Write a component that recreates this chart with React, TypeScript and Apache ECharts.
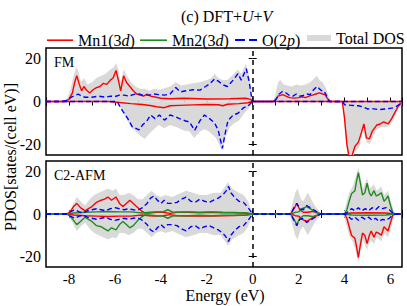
import React, { useEffect, useRef } from "react";
import * as echarts from "echarts";

const FONT = '"Liberation Serif", "Times New Roman", serif';
const RED = "#ff0000";
const GREEN = "#1e8c1e";
const BLUE = "#0000ff";
const GRAY = "#d9d9d9";

const X_TICK_LABELS = [-8, -6, -4, -2, 0, 2, 4, 6];
const Y_TICKS = [-20, 0, 20];
const LEGEND_NAMES = ["Mn1(3d)", "Mn2(3d)", "O(2p)", "Total DOS"];

// ---------- FM panel (energy eV, PDOS) ----------
const FM_TOT_UP = [
  [-9, 0], [-8.3, 0], [-8.1, 1], [-7.95, 5], [-7.8, 12], [-7.68, 16], [-7.58, 14], [-7.48, 9], [-7.35, 11], [-7.2, 8], [-7.0, 9], [-6.8, 11], [-6.6, 12], [-6.4, 13], [-6.2, 15], [-6.05, 16], [-5.95, 18], [-5.85, 15], [-5.75, 9], [-5.62, 15], [-5.48, 12], [-5.3, 9], [-5.1, 7], [-4.9, 6], [-4.7, 6], [-4.5, 5], [-4.3, 6], [-4.1, 5.5], [-3.9, 6], [-3.6, 7], [-3.35, 9], [-3.1, 7.5], [-2.9, 8], [-2.6, 8.5], [-2.3, 9], [-2.0, 10], [-1.8, 11], [-1.66, 13], [-1.5, 11], [-1.3, 10], [-1.1, 10], [-0.9, 12], [-0.65, 15], [-0.5, 13], [-0.3, 17.5], [-0.15, 12], [-0.05, 3], [0, 0],
  [0.9, 0], [1.0, 4], [1.1, 9], [1.2, 10], [1.35, 8], [1.5, 7.5], [1.7, 7], [1.9, 8], [2.1, 7.5], [2.3, 8], [2.5, 9], [2.7, 11], [2.8, 12], [2.9, 10], [3.05, 9], [3.2, 6], [3.35, 1], [3.4, 0], [6.5, 0],
];
const FM_TOT_DN = [
  [-9, 0], [-6.0, 0], [-5.85, -1], [-5.7, -4], [-5.5, -8], [-5.3, -12], [-5.1, -14], [-4.9, -16], [-4.7, -17.5], [-4.5, -15], [-4.3, -13], [-4.1, -11], [-3.85, -12.5], [-3.6, -11], [-3.3, -12], [-3.0, -13.5], [-2.75, -14], [-2.55, -17], [-2.3, -14], [-2.1, -13], [-1.9, -14], [-1.6, -17], [-1.42, -21], [-1.32, -23], [-1.2, -17], [-1.0, -12], [-0.8, -10], [-0.6, -9], [-0.4, -6], [-0.2, -3.5], [0, 0],
  [3.9, 0], [4.0, -12], [4.1, -23], [4.2, -27], [4.35, -26], [4.5, -23], [4.65, -21], [4.8, -13], [4.95, -19], [5.1, -20], [5.25, -16], [5.4, -13], [5.6, -12], [5.8, -12], [6.0, -11], [6.15, -8], [6.3, -4], [6.5, -1],
];
const FM_MN1_UP = [
  [-9, 0], [-8.2, 0], [-8.0, 1], [-7.85, 4], [-7.75, 9], [-7.66, 12], [-7.55, 8], [-7.45, 5], [-7.35, 7], [-7.25, 5.5], [-7.1, 4], [-6.95, 5.5], [-6.8, 6.5], [-6.65, 7], [-6.5, 8.5], [-6.35, 8], [-6.2, 10], [-6.08, 11], [-5.95, 14.5], [-5.85, 10], [-5.75, 5], [-5.62, 12], [-5.5, 9], [-5.35, 7], [-5.2, 5], [-5.05, 3.5], [-4.9, 3], [-4.75, 2.5], [-4.6, 3.5], [-4.45, 2.5], [-4.2, 2], [-4.0, 1.5], [-3.6, 1.3], [-3.0, 1.5], [-2.0, 1.2], [-1.0, 1.3], [-0.3, 1.5], [-0.1, 1], [0, 0],
  [0.9, 0], [1.0, 1], [1.1, 2.5], [1.3, 3.2], [1.45, 2.5], [1.6, 1.8], [1.8, 1.6], [2.0, 1.8], [2.15, 2.2], [2.3, 1.8], [2.45, 2.5], [2.6, 3], [2.75, 3.5], [2.9, 4], [3.05, 3.5], [3.15, 3.2], [3.25, 1.5], [3.35, 0], [6.5, 0],
];
const FM_MN1_DN = [
  [-9, 0], [-6.3, 0], [-5.8, -0.5], [-5.3, -1], [-4.8, -1.4], [-4.4, -2], [-4.1, -2.6], [-3.85, -2.9], [-3.6, -2], [-3.2, -1.8], [-2.6, -1.6], [-2.0, -1.4], [-1.5, -1.5], [-1.3, -2], [-1.1, -1.3], [-0.6, -1], [-0.2, -0.6], [0, 0],
  [3.9, 0], [4.0, -8], [4.1, -20], [4.2, -26], [4.3, -26], [4.45, -21], [4.6, -19], [4.72, -15], [4.84, -10.5], [4.95, -17], [5.08, -17.5], [5.2, -14], [5.4, -11], [5.55, -10.5], [5.7, -9.5], [5.9, -10.5], [6.05, -8], [6.2, -5], [6.35, -2], [6.5, -0.5],
];
const FM_O_UP = [
  [-9, 0], [-8.3, 0], [-8.1, 0.5], [-7.9, 2], [-7.6, 3.5], [-7.45, 2.5], [-7.3, 2], [-7.0, 2], [-6.7, 2.5], [-6.4, 2], [-6.2, 2.5], [-6.0, 2.3], [-5.8, 3], [-5.6, 3], [-5.4, 2.5], [-5.2, 3.2], [-5.0, 3.7], [-4.8, 3], [-4.5, 3], [-4.3, 3.5], [-4.1, 3.2], [-3.85, 3], [-3.6, 3.5], [-3.35, 6.5], [-3.15, 4.5], [-2.9, 5], [-2.6, 5.5], [-2.3, 5.3], [-2.05, 7], [-1.88, 8.2], [-1.66, 10.5], [-1.5, 9.5], [-1.3, 7.8], [-1.1, 7], [-0.85, 10], [-0.64, 13], [-0.5, 10], [-0.28, 15.3], [-0.15, 9], [-0.05, 2], [0, 0],
  [0.95, 0], [1.05, 1.5], [1.15, 3.5], [1.3, 4.7], [1.45, 4], [1.6, 2.8], [1.75, 2.5], [1.9, 3.5], [2.05, 2.5], [2.2, 2.8], [2.35, 3.5], [2.5, 3.2], [2.65, 5.5], [2.8, 7], [2.9, 6], [3.0, 5], [3.1, 5], [3.2, 3], [3.35, 0], [6.5, 0],
];
const FM_O_DN = [
  [-9, 0], [-5.9, 0], [-5.8, -2], [-5.65, -4.6], [-5.45, -7.8], [-5.25, -11.7], [-4.95, -13.3], [-4.8, -11], [-4.6, -9], [-4.45, -6.3], [-4.25, -8], [-4.06, -6.3], [-3.84, -8.7], [-3.6, -6.3], [-3.4, -7], [-3.19, -8], [-2.95, -9], [-2.75, -9.6], [-2.53, -13.5], [-2.3, -9], [-2.1, -6.3], [-1.88, -8], [-1.66, -10], [-1.5, -13.5], [-1.32, -21.9], [-1.2, -15], [-1.08, -9], [-0.85, -6.3], [-0.64, -5.5], [-0.41, -3], [-0.2, -2], [0, 0],
  [3.9, 0], [4.0, -1.5], [4.3, -1.8], [4.6, -2], [4.8, -2.5], [5.0, -3.5], [5.2, -3.3], [5.5, -3.8], [5.8, -3.5], [6.1, -3], [6.3, -2], [6.5, -0.5],
];

// ---------- C2-AFM panel ----------
const AFM_TOT_UP = [
  [-9, 0], [-8.1, 0], [-7.95, 2], [-7.8, 5], [-7.66, 8], [-7.5, 6], [-7.3, 4], [-7.1, 7], [-6.9, 9], [-6.7, 10], [-6.5, 11], [-6.3, 12], [-6.1, 11], [-5.95, 12], [-5.8, 9], [-5.6, 9], [-5.4, 10], [-5.2, 9], [-5.0, 7], [-4.8, 7], [-4.6, 9], [-4.4, 11], [-4.2, 9], [-4.0, 8], [-3.8, 9], [-3.5, 8], [-3.2, 9.5], [-2.9, 11], [-2.6, 10], [-2.3, 9], [-2.0, 9], [-1.7, 10], [-1.4, 10], [-1.2, 13], [-1.08, 15], [-0.9, 12], [-0.6, 10], [-0.4, 9], [-0.2, 6], [0, 0],
  [1.6, 0], [1.7, 4], [1.85, 10], [1.95, 12], [2.1, 7], [2.2, 6], [2.4, 10], [2.55, 7], [2.7, 4], [2.85, 2], [3.0, 0],
  [3.95, 0], [4.05, 4], [4.2, 10], [4.35, 13], [4.5, 18], [4.6, 22], [4.7, 17], [4.8, 12], [4.98, 17], [5.1, 12], [5.28, 14], [5.4, 11], [5.6, 13], [5.72, 9], [5.89, 11], [6.0, 7], [6.1, 3], [6.2, 0], [6.5, 0],
];
const AFM_TOT_DN = [
  [-9, 0], [-8.1, 0], [-7.95, -2], [-7.8, -5], [-7.66, -8], [-7.5, -6], [-7.3, -4], [-7.1, -7], [-6.9, -9], [-6.7, -10], [-6.5, -11], [-6.3, -12], [-6.1, -11], [-5.95, -11.5], [-5.8, -9], [-5.6, -9], [-5.4, -10], [-5.2, -9], [-5.0, -7], [-4.8, -7], [-4.6, -9], [-4.4, -11], [-4.2, -9], [-4.0, -8], [-3.8, -9], [-3.5, -8], [-3.2, -9.5], [-2.9, -11], [-2.6, -10], [-2.3, -9], [-2.0, -9], [-1.7, -10], [-1.4, -10], [-1.2, -13], [-1.08, -15], [-0.9, -12], [-0.6, -10], [-0.4, -9], [-0.2, -6], [0, 0],
  [1.6, 0], [1.7, -4], [1.85, -10], [1.95, -12], [2.1, -7], [2.2, -6], [2.4, -10], [2.55, -7], [2.7, -4], [2.85, -2], [3.0, 0],
  [3.95, 0], [4.05, -4], [4.2, -10], [4.35, -13], [4.5, -18], [4.6, -23], [4.7, -17], [4.8, -12], [4.98, -17], [5.1, -12], [5.28, -14], [5.4, -11], [5.6, -13], [5.72, -9], [5.89, -11], [6.0, -7], [6.1, -3], [6.2, 0], [6.5, 0],
];
const AFM_MN1_UP = [
  [-9, 0], [-8.1, 0], [-7.95, 1], [-7.8, 3.5], [-7.66, 5], [-7.5, 3], [-7.3, 1.5], [-7.15, 2.5], [-7.0, 3.5], [-6.8, 5.5], [-6.6, 6.5], [-6.45, 7], [-6.3, 8], [-6.15, 6.5], [-5.95, 8], [-5.8, 5], [-5.65, 3.5], [-5.5, 5], [-5.35, 6.5], [-5.2, 5], [-5.0, 3], [-4.85, 1.5], [-4.7, 0.5], [-4.5, 0.5], [-4.2, 0.8], [-3.9, 0.8], [-3.6, 0.3], [-3.3, 0.8], [-2.8, 0.8], [-2.3, 0.6], [-1.8, 0.8], [-1.3, 0.6], [-0.8, 0.6], [-0.3, 0.5], [0, 0],
  [1.65, 0], [1.8, 2.5], [1.92, 5], [2.05, 2], [2.2, 0.8], [2.4, 0.8], [2.6, 1.2], [2.8, 0.5], [2.95, 0],
  [4.0, 0], [4.3, 0.5], [5.0, 0.6], [5.8, 0.5], [6.2, 0], [6.5, 0],
];
const AFM_MN1_DN = [
  [-9, 0], [-8.1, 0], [-7.8, -0.5], [-7.3, -0.8], [-6.8, -1], [-6.3, -1.2], [-5.8, -1], [-5.3, -1], [-4.8, -0.5], [-4.5, -0.8], [-4.2, -1], [-3.9, -0.8], [-3.6, -0.3], [-3.3, -0.8], [-2.8, -1], [-2.3, -0.8], [-1.8, -1], [-1.3, -0.8], [-0.8, -0.7], [-0.3, -0.5], [0, 0],
  [1.65, 0], [1.85, -0.8], [2.0, -1], [2.15, -2.5], [2.35, -3.5], [2.5, -2.5], [2.65, -1.5], [2.8, -0.8], [2.95, 0],
  [4.0, 0], [4.1, -2], [4.2, -6], [4.3, -10], [4.45, -11.5], [4.53, -16], [4.6, -20.5], [4.68, -15], [4.78, -9], [4.88, -10], [4.98, -14], [5.08, -10], [5.16, -8], [5.28, -11], [5.38, -8.5], [5.48, -9], [5.6, -10], [5.72, -6], [5.8, -7], [5.89, -8], [6.0, -4], [6.1, -0.5], [6.2, 0], [6.5, 0],
];
const AFM_MN2_UP = [
  [-9, 0], [-8.1, 0], [-7.8, 0.5], [-7.3, 0.8], [-6.8, 1], [-6.3, 1.2], [-5.8, 1], [-5.3, 1], [-4.8, 0.5], [-4.5, 0.8], [-4.2, 1], [-3.9, 1], [-3.7, 2], [-3.5, 1], [-3.3, 0.8], [-2.8, 1], [-2.3, 0.8], [-1.8, 1], [-1.3, 0.8], [-0.8, 0.7], [-0.3, 0.5], [0, 0],
  [1.65, 0], [1.85, 0.8], [2.0, 1], [2.15, 2.5], [2.35, 3.5], [2.5, 2.5], [2.65, 1.5], [2.8, 0.8], [2.95, 0],
  [4.0, 0], [4.1, 2], [4.2, 6], [4.3, 9.5], [4.45, 11], [4.53, 16], [4.6, 19.5], [4.68, 15], [4.78, 9], [4.88, 10], [4.98, 14.5], [5.08, 10], [5.16, 8.5], [5.28, 11], [5.38, 8.5], [5.48, 9], [5.6, 10], [5.72, 6], [5.8, 7], [5.89, 8.5], [6.0, 4], [6.1, 0.5], [6.2, 0], [6.5, 0],
];
const AFM_MN2_DN = [
  [-9, 0], [-8.1, 0], [-7.95, -1], [-7.8, -3], [-7.66, -5], [-7.5, -3.5], [-7.3, -1.5], [-7.15, -2.5], [-7.0, -3.5], [-6.8, -5.5], [-6.6, -6], [-6.45, -7], [-6.3, -8], [-6.15, -6.5], [-5.95, -7.5], [-5.8, -5], [-5.65, -3.5], [-5.5, -5], [-5.35, -6.5], [-5.2, -5.5], [-5.0, -3], [-4.85, -1.5], [-4.7, -0.5], [-4.5, -0.5], [-4.2, -0.8], [-3.9, -1], [-3.7, -2], [-3.5, -1], [-3.3, -0.8], [-2.8, -0.8], [-2.3, -0.6], [-1.8, -0.8], [-1.3, -0.6], [-0.8, -0.6], [-0.3, -0.5], [0, 0],
  [1.65, 0], [1.8, -2.5], [1.92, -5], [2.05, -2], [2.2, -0.8], [2.4, -0.8], [2.6, -1.2], [2.8, -0.5], [2.95, 0],
  [4.0, 0], [4.3, -0.5], [5.0, -0.6], [5.8, -0.5], [6.2, 0], [6.5, 0],
];
const AFM_O_UP = [
  [-9, 0], [-8.1, 0], [-7.95, 1], [-7.75, 2], [-7.55, 1], [-7.4, 0.5], [-7.2, 1.5], [-7.0, 2], [-6.8, 2.5], [-6.6, 2], [-6.4, 1.5], [-6.2, 2.5], [-6.0, 3], [-5.8, 2.5], [-5.6, 2], [-5.4, 2.5], [-5.2, 2], [-5.0, 1.8], [-4.8, 3], [-4.6, 5], [-4.45, 7.5], [-4.3, 8.5], [-4.15, 6.5], [-4.0, 5], [-3.85, 6.5], [-3.7, 5], [-3.5, 5], [-3.3, 5.5], [-3.1, 7], [-2.9, 8], [-2.7, 6], [-2.5, 5.5], [-2.3, 7], [-2.1, 6], [-1.9, 5.5], [-1.7, 6.5], [-1.5, 7.5], [-1.3, 9], [-1.15, 11], [-1.05, 13], [-0.95, 10], [-0.8, 8], [-0.6, 6], [-0.4, 5.5], [-0.2, 3], [0, 0],
  [1.65, 0], [1.8, 3], [1.92, 5], [2.05, 2.5], [2.2, 2], [2.35, 4], [2.5, 3], [2.65, 2], [2.8, 1], [2.95, 0],
  [4.0, 0], [4.15, 1], [4.3, 2.5], [4.45, 1.5], [4.6, 3], [4.75, 1.5], [4.9, 2.5], [5.05, 1.5], [5.2, 3], [5.35, 2], [5.5, 3.5], [5.65, 2.5], [5.8, 3], [5.95, 2], [6.1, 0.5], [6.2, 0], [6.5, 0],
];
const AFM_O_DN = [
  [-9, 0], [-8.1, 0], [-7.95, -1], [-7.75, -2], [-7.55, -1], [-7.4, -0.5], [-7.2, -1.5], [-7.0, -2], [-6.8, -2.5], [-6.6, -2], [-6.4, -1.5], [-6.2, -2.5], [-6.0, -3], [-5.8, -2.5], [-5.6, -2], [-5.4, -2.5], [-5.2, -2], [-5.0, -1.8], [-4.8, -3], [-4.6, -5], [-4.45, -7.5], [-4.3, -8.5], [-4.15, -6.5], [-4.0, -5], [-3.85, -6.5], [-3.7, -5], [-3.5, -5], [-3.3, -5.5], [-3.1, -7], [-2.9, -8], [-2.7, -6], [-2.5, -5.5], [-2.3, -7], [-2.1, -6], [-1.9, -5.5], [-1.7, -6.5], [-1.5, -7.5], [-1.3, -9], [-1.15, -11], [-1.05, -13], [-0.95, -10], [-0.8, -8], [-0.6, -6], [-0.4, -5.5], [-0.2, -3], [0, 0],
  [1.65, 0], [1.8, -3], [1.92, -5.5], [2.05, -2.5], [2.2, -2], [2.35, -4], [2.5, -3], [2.65, -2], [2.8, -1], [2.95, 0],
  [4.0, 0], [4.15, -1], [4.3, -2.5], [4.45, -1.5], [4.6, -3], [4.75, -1.5], [4.9, -2.5], [5.05, -1.5], [5.2, -3], [5.35, -2], [5.5, -3.5], [5.65, -2.5], [5.8, -3], [5.95, -2], [6.1, -0.5], [6.2, 0], [6.5, 0],
];

const X_MIN = -9;
const X_MAX = 6.5;
const Y_MIN = -25;
const Y_MAX = 25;

function lineSeries(name: string, data: number[][], color: string, xi: number, yi: number, dashed = false) {
  return {
    type: "line",
    name,
    data,
    xAxisIndex: xi,
    yAxisIndex: yi,
    symbol: "none",
    silent: true,
    z: dashed ? 4 : 3,
    lineStyle: { color, width: 1.4, type: dashed ? [5, 3] : "solid" },
    itemStyle: { color },
  };
}
function areaSeries(data: number[][], xi: number, yi: number) {
  return {
    type: "line",
    name: "Total DOS",
    data,
    xAxisIndex: xi,
    yAxisIndex: yi,
    symbol: "none",
    silent: true,
    z: 1,
    lineStyle: { width: 0, color: GRAY },
    itemStyle: { color: GRAY },
    areaStyle: { color: GRAY, opacity: 1 },
  };
}
const fermi = {
  symbol: "none",
  silent: true,
  label: { show: false },
  lineStyle: { color: "#000", type: [5, 4], width: 1.5 },
  data: [{ xAxis: 0 }],
};

function xAxis(gridIndex: number, position: string, labels: boolean) {
  return {
    type: "value",
    gridIndex,
    position,
    min: X_MIN,
    max: X_MAX,
    interval: 1,
    axisLine: { show: false },
    splitLine: { show: false },
    axisTick: { show: true, inside: true, length: 4, lineStyle: { color: "#000", width: 1 } },
    axisLabel: {
      show: labels,
      margin: 4,
      color: "#000",
      fontFamily: FONT,
      fontSize: 15,
      formatter: (v: number) => (X_TICK_LABELS.includes(v) ? String(v) : ""),
    },
  };
}
function yAxis(gridIndex: number, position: string, labels: boolean) {
  return {
    type: "value",
    gridIndex,
    position,
    min: Y_MIN,
    max: Y_MAX,
    axisLine: { show: false },
    splitLine: { show: false },
    axisTick: { show: true, inside: true, length: 4, customValues: Y_TICKS, lineStyle: { color: "#000", width: 1 } },
    axisLabel: { show: labels, customValues: Y_TICKS, margin: 5, color: "#000", fontFamily: FONT, fontSize: 16 },
  };
}

const legendRich = {
  a: { fontFamily: FONT, fontSize: 16, color: "#000" },
  i: { fontFamily: FONT, fontSize: 16, color: "#000", fontStyle: "italic" },
};
function legendFormatter(name: string) {
  if (name === "Mn1(3d)") return "{a|Mn1(3}{i|d}{a|)}";
  if (name === "Mn2(3d)") return "{a|Mn2(3}{i|d}{a|)}";
  if (name === "O(2p)") return "{a|O(2}{i|p}{a|)}";
  return "{a|" + name + "}";
}
const LEGEND_Y = 33;
function legendBox(name: string, left: number, icon: string, color: string, w: number, h: number) {
  return {
    left,
    top: LEGEND_Y - h / 2,
    padding: 0,
    itemWidth: w,
    itemHeight: h,
    symbolKeepAspect: false,
    selectedMode: false,
    formatter: legendFormatter,
    textStyle: { fontFamily: FONT, fontSize: 16, color: "#000", rich: legendRich },
    data: [{ name, icon, itemStyle: { color, borderWidth: 0 } }],
  };
}

export default function App() {
  const ref = useRef<HTMLDivElement>(null);
  useEffect(() => {
    document.body.style.margin = "0";
    const chart = echarts.init(ref.current!, null, { renderer: "svg" });
    const option: any = {
      animation: false,
      backgroundColor: "#fff",
      title: {
        text: "{a|(c) DFT+}{i|U}{a|+}{i|V}",
        left: 176,
        top: 3,
        textStyle: { fontFamily: FONT, fontSize: 16, fontWeight: "normal", color: "#000", rich: legendRich },
      },
      legend: [
        legendBox(LEGEND_NAMES[0], 47, "rect", RED, 26, 1.6),
        legendBox(LEGEND_NAMES[1], 140, "rect", GREEN, 27, 1.6),
        legendBox(LEGEND_NAMES[2], 235, "path://M0,0h10v2h-10z M14,0h8v2h-8z", BLUE, 22, 2),
        legendBox(LEGEND_NAMES[3], 307, "rect", GRAY, 24, 6),
      ],
      grid: [
        { left: 46, top: 48, width: 356, height: 107, show: true, borderColor: "#000", borderWidth: 1.5, backgroundColor: "transparent" },
        { left: 46, top: 161, width: 356, height: 106, show: true, borderColor: "#000", borderWidth: 1.5, backgroundColor: "transparent" },
      ],
      xAxis: [xAxis(0, "bottom", false), xAxis(0, "top", false), xAxis(1, "bottom", true), xAxis(1, "top", false)],
      yAxis: [yAxis(0, "left", true), yAxis(0, "right", false), yAxis(1, "left", true), yAxis(1, "right", false)],
      graphic: [
        { type: "text", x: 54, y: 62, style: { text: "FM", font: `14px ${FONT}`, fill: "#000", verticalAlign: "middle" } },
        { type: "text", x: 54, y: 175, style: { text: "C2-AFM", font: `14px ${FONT}`, fill: "#000", verticalAlign: "middle" } },
        { type: "text", x: 10, y: 157, rotation: Math.PI / 2, style: { text: "PDOS[states/(cell eV)]", font: `16px ${FONT}`, fill: "#000", align: "center", verticalAlign: "middle" } },
        { type: "text", x: 225, y: 295, style: { text: "Energy (eV)", font: `16px ${FONT}`, fill: "#000", align: "center", verticalAlign: "middle" } },
      ],
      series: [
        areaSeries(FM_TOT_UP, 0, 0),
        areaSeries(FM_TOT_DN, 0, 0),
        lineSeries("Mn1(3d)", FM_MN1_UP, RED, 0, 0),
        lineSeries("Mn1(3d)", FM_MN1_DN, RED, 0, 0),
        { ...lineSeries("O(2p)", FM_O_UP, BLUE, 0, 0, true), markLine: fermi },
        lineSeries("O(2p)", FM_O_DN, BLUE, 0, 0, true),
        areaSeries(AFM_TOT_UP, 2, 2),
        areaSeries(AFM_TOT_DN, 2, 2),
        lineSeries("Mn1(3d)", AFM_MN1_UP, RED, 2, 2),
        lineSeries("Mn1(3d)", AFM_MN1_DN, RED, 2, 2),
        lineSeries("Mn2(3d)", AFM_MN2_UP, GREEN, 2, 2),
        lineSeries("Mn2(3d)", AFM_MN2_DN, GREEN, 2, 2),
        { ...lineSeries("O(2p)", AFM_O_UP, BLUE, 2, 2, true), markLine: fermi },
        lineSeries("O(2p)", AFM_O_DN, BLUE, 2, 2, true),
      ],
    };
    chart.setOption(option);
    return () => chart.dispose();
  }, []);
  return <div ref={ref} style={{ width: 407, height: 306 }} />;
}
